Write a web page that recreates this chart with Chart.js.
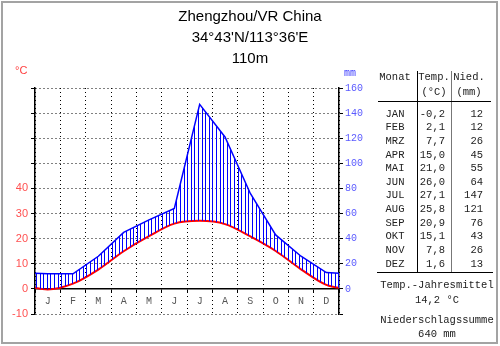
<!DOCTYPE html>
<html>
<head>
<meta charset="utf-8">
<script src="https://cdn.jsdelivr.net/npm/chart.js@4/dist/chart.umd.min.js"></script>
<style>
  html, body { margin: 0; padding: 0; background: #fff; }
  #wrap { position: relative; width: 500px; height: 346px; overflow: hidden; background: #fff; }
  #frame { position: absolute; left: 1px; top: 1px; width: 497px; height: 343px; box-sizing: border-box; border: 2px solid #a3a3a3; pointer-events: none; }
  #c { position: absolute; left: 0; top: 0; }
  .t { position: absolute; white-space: pre; }
  .title { font: 15px "Liberation Sans", Arial, sans-serif; color: #000; line-height: 18px; height: 18px; }
  .mono { font-family: "Liberation Mono", "Courier New", monospace; font-size: 10.5px; color: #222; line-height: 12px; height: 12px; }
  .rule { position: absolute; }
</style>
</head>
<body>
<div id="wrap">
  <canvas id="c" width="370" height="346"></canvas>
  <div id="overlay"></div>
  <div id="frame"></div>
</div>
<script>
// Zhengzhou climate normals
const station = ['Zhengzhou/VR China', "34°43'N/113°36'E", '110m'];
const months = ['JAN', 'FEB', 'MRZ', 'APR', 'MAI', 'JUN', 'JUL', 'AUG', 'SEP', 'OKT', 'NOV', 'DEZ'];
const monthLetters = ['J', 'F', 'M', 'A', 'M', 'J', 'J', 'A', 'S', 'O', 'N', 'D'];
const temperature = [-0.2, 2.1, 7.7, 15.0, 21.0, 26.0, 27.1, 25.8, 20.9, 15.1, 7.8, 1.6];   // °C
const precipitation = [12, 12, 26, 45, 55, 64, 147, 121, 76, 43, 26, 13];                  // mm
const tempLabelMax = 40;      // left axis labelled from -10 up to 40 °C
const precLabelMin = 0;       // right axis labelled from 0 mm upwards

// Monthly values sit at month centres; the year wraps around at both ends.
function cyclic(values) {
  const n = values.length;
  const pts = [{ x: -0.5, y: values[n - 1] }];
  values.forEach((v, i) => pts.push({ x: i + 0.5, y: v }));
  pts.push({ x: n + 0.5, y: values[0] });
  return pts;
}

const canvas = document.getElementById('c');
const ctx = canvas.getContext('2d');

// vertical blue hatching for the humid season
function hatchPattern() {
  const tile = document.createElement('canvas');
  tile.width = 18; tile.height = 4;
  const g = tile.getContext('2d');
  g.fillStyle = '#0000ff';
  [0, 4, 7, 11, 14].forEach(x => g.fillRect(x, 0, 1, 4));
  return ctx.createPattern(tile, 'repeat');
}

const dotted = [1, 3];

new Chart(ctx, {
  type: 'line',
  data: {
    labels: monthLetters,
    datasets: [
      {
        label: 'Niederschlag',
        data: cyclic(precipitation),
        xAxisID: 'xv', yAxisID: 'y2',
        borderColor: '#0000ff', borderWidth: 1.5,
        backgroundColor: hatchPattern(),
        fill: { target: 1 },
        pointRadius: 0, tension: 0, clip: 0
      },
      {
        label: 'Temperatur',
        data: cyclic(temperature),
        xAxisID: 'xv', yAxisID: 'y',
        borderColor: '#ff0000', borderWidth: 2,
        fill: false,
        pointRadius: 0, cubicInterpolationMode: 'monotone', clip: 0
      }
    ]
  },
  options: {
    responsive: false,
    animation: false,
    devicePixelRatio: 1,
    layout: { padding: { top: 88, bottom: 32, left: 0, right: 0 } },
    plugins: { legend: { display: false }, tooltip: { enabled: false } },
    scales: {
      xv: { type: 'linear', min: 0, max: 12, display: false },
      x: {
        type: 'category',
        position: { y: 0 },
        offset: true,
        grid: { offset: true, color: '#000', lineWidth: 1, tickLength: 3, tickBorderDash: [] },
        border: { color: '#000', width: 1.5, dash: dotted },
        ticks: {
          color: '#555', padding: 3, autoSkip: false, maxRotation: 0,
          font: { family: '"Liberation Mono", monospace', size: 10 }
        }
      },
      y: {
        position: 'left', min: -10, max: 80,
        afterFit: s => { s.width = 35; },
        grid: { color: '#000', lineWidth: 1, tickLength: 4, tickBorderDash: [] },
        border: { color: '#000', width: 1.5, dash: dotted },
        ticks: {
          stepSize: 10, padding: 3, color: '#ff5050',
          font: { family: '"Liberation Sans", Arial, sans-serif', size: 11 },
          callback: v => (v <= tempLabelMax ? v : '')
        }
      },
      y2: {
        position: 'right', min: -20, max: 160,
        afterFit: s => { s.width = 31; },
        grid: { drawOnChartArea: false, color: '#000', lineWidth: 1, tickLength: 4 },
        border: { color: '#000', width: 1.5 },
        ticks: {
          stepSize: 20, padding: 2, color: '#5a5aff',
          font: { family: '"Liberation Mono", monospace', size: 10 },
          callback: v => (v >= precLabelMin ? v : '')
        }
      }
    }
  }
});

// ---- texts and climate table ----
const overlay = document.getElementById('overlay');
function put(text, x, yc, align, cls, style) {
  const el = document.createElement('div');
  el.className = 't ' + cls;
  el.textContent = text;
  const h = cls === 'title' ? 9 : 5.4;
  el.style.top = (yc - h) + 'px';
  el.style.left = x + 'px';
  if (align === 'c') el.style.transform = 'translateX(-50%)';
  if (align === 'r') el.style.transform = 'translateX(-100%)';
  if (style) Object.assign(el.style, style);
  overlay.appendChild(el);
}
function rule(x, y, w, h, color) {
  const el = document.createElement('div');
  el.className = 'rule';
  Object.assign(el.style, { left: x + 'px', top: y + 'px', width: w + 'px', height: h + 'px', background: color });
  overlay.appendChild(el);
}
const fmt = v => v.toFixed(1).replace('.', ',');

put(station[0], 250, 15.5, 'c', 'title');
put(station[1], 250, 37, 'c', 'title');
put(station[2], 250, 57.5, 'c', 'title');

put('°C', 15, 73, 'l', 'title', { font: '11px "Liberation Sans", Arial, sans-serif', color: '#ff4040' });
put('mm', 344, 73, 'l', 'mono', { fontSize: '10px', color: '#3c3cff' });

// table header
put('Monat', 395, 76, 'c', 'mono');
put('Temp.', 434, 76, 'c', 'mono');
put('(°C)', 434, 91, 'c', 'mono');
put('Nied.', 469, 76, 'c', 'mono');
put('(mm)', 469, 91, 'c', 'mono');
rule(417, 71, 1, 201, '#000');
rule(451, 71, 1, 201, '#777');
rule(378, 101, 113, 1, '#000');
rule(377, 272, 116, 1, '#000');

months.forEach((m, i) => {
  const y = 113 + i * 13.64;
  put(m, 395, y, 'c', 'mono');
  put(fmt(temperature[i]), 445, y, 'r', 'mono');
  put(String(precipitation[i]), 483, y, 'r', 'mono');
});

const meanT = temperature.reduce((a, b) => a + b, 0) / temperature.length;
const sumP = precipitation.reduce((a, b) => a + b, 0);
put('Temp.-Jahresmittel', 437, 284, 'c', 'mono');
put(fmt(meanT) + ' °C', 437, 299, 'c', 'mono');
put('Niederschlagssumme', 437, 319, 'c', 'mono');
put(sumP + ' mm', 437, 333, 'c', 'mono');
</script>
</body>
</html>
